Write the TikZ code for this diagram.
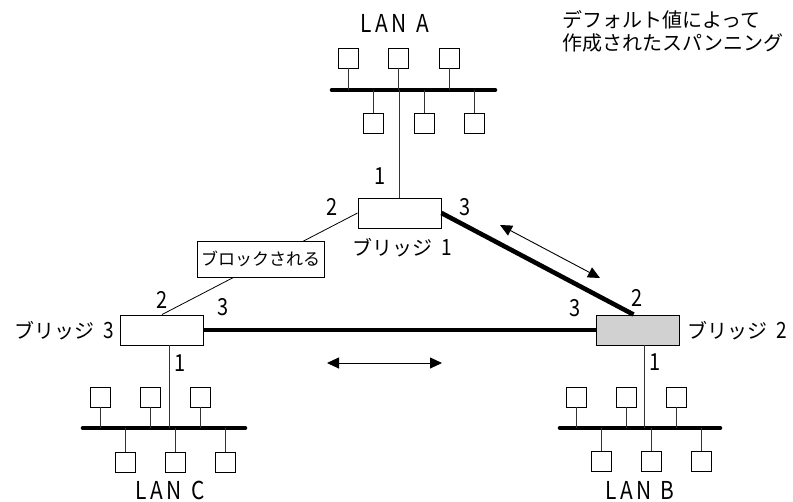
\documentclass[tikz,border=0pt]{standalone}
\usepackage{fontspec}
\usepackage{graphicx}
\setmainfont{Noto Sans CJK JP}
\usetikzlibrary{arrows.meta}
\newcommand{\cn}[1]{\scalebox{0.95}[1.12]{#1}}
\begin{document}
\begin{tikzpicture}[x=1pt,y=-1pt,
  bus/.style={line width=4.6pt, line cap=round},
  thin/.style={line width=0.9pt, draw=black!80},
  host/.style={draw, line width=0.9pt, minimum size=20pt, inner sep=0pt, fill=white},
  bridge/.style={draw, line width=0.9pt, minimum width=83pt, minimum height=30pt, inner sep=0pt},
  lbl/.style={font=\fontsize{20}{22}\selectfont, inner sep=0pt},
  lanlbl/.style={font=\fontsize{22}{24}\selectfont, inner sep=0pt},
  num/.style={font=\fontsize{21}{22}\selectfont, inner sep=0pt},
  thick link/.style={line width=4.6pt},
  dbl/.style={line width=0.9pt, {Triangle[length=12pt,width=11pt]}-{Triangle[length=12pt,width=11pt]}}
]
\useasboundingbox (0,0) rectangle (793,501);

% ---------- LAN A ----------
\coordinate (aL) at (332,90);
\coordinate (aR) at (495,90);
\draw[bus] (aL) -- (aR);
\node[host] (a1) at (348,58) {};
\node[host] (a2) at (398,58) {};
\node[host] (a3) at (449,58) {};
\node[host] (a4) at (373,123) {};
\node[host] (a5) at (424,123) {};
\node[host] (a6) at (474,123) {};
\foreach \h in {a1,a2,a3}{\draw[thin] (\h.south) -- (\h.south |- aL);}
\foreach \h in {a4,a5,a6}{\draw[thin] (\h.north) -- (\h.north |- aL);}
\node[lanlbl] (lanA) at (395,23) {\cn{L\,A\,N\ \ A}};

% ---------- LAN C ----------
\coordinate (cL) at (83,428);
\coordinate (cR) at (245,428);
\draw[bus] (cL) -- (cR);
\node[host] (c1) at (100,397) {};
\node[host] (c2) at (150,397) {};
\node[host] (c3) at (200,397) {};
\node[host] (c4) at (125,462) {};
\node[host] (c5) at (175,462) {};
\node[host] (c6) at (225,462) {};
\foreach \h in {c1,c2,c3}{\draw[thin] (\h.south) -- (\h.south |- cL);}
\foreach \h in {c4,c5,c6}{\draw[thin] (\h.north) -- (\h.north |- cL);}
\node[lanlbl] (lanC) at (170,490) {\cn{L\,A\,N\ \ C}};

% ---------- LAN B ----------
\coordinate (bL) at (560,428);
\coordinate (bR) at (720,428);
\draw[bus] (bL) -- (bR);
\node[host] (d1) at (576,397) {};
\node[host] (d2) at (626,397) {};
\node[host] (d3) at (676,397) {};
\node[host] (d4) at (601,461) {};
\node[host] (d5) at (651,461) {};
\node[host] (d6) at (701,461) {};
\foreach \h in {d1,d2,d3}{\draw[thin] (\h.south) -- (\h.south |- bL);}
\foreach \h in {d4,d5,d6}{\draw[thin] (\h.north) -- (\h.north |- bL);}
\node[lanlbl] (lanB) at (640,490) {\cn{L\,A\,N\ \ B}};

% ---------- Bridges ----------
\node[bridge, fill=white] (b1) at (399.5,213) {};
\node[bridge, fill=white] (b3) at (162,330) {};
\node[bridge, fill=black!18] (b2) at (637.5,330) {};

% stems bridge -> LAN
\draw[thin] (b1.north) -- (b1.north |- aL);
\draw[thin] ([xshift=49pt]b3.south west) -- ([xshift=49pt]b3.south west |- cL);
\draw[thin] ([xshift=49pt]b2.south west) -- ([xshift=49pt]b2.south west |- bL);

% links between bridges
\draw[line width=0.8pt] (b1.west) -- (b3.north);
\draw[thick link] (b1.east) -- ([xshift=-4pt]b2.north);
\draw[thick link] (b3.east) -- (b2.west);

% blocked label
\node[draw, line width=0.9pt, fill=white, minimum width=127pt, minimum height=36pt, inner sep=0pt,
      font=\fontsize{17}{19}\selectfont] (blk) at (260.5,259) {ブロックされる};

% port numbers
\node[num] (p11) at (380,176) {\cn{1}};
\node[num] (p12) at (332,207) {\cn{2}};
\node[num] (p13) at (465,207) {\cn{3}};
\node[num] (p32) at (162,300) {\cn{2}};
\node[num] (p33) at (223,307) {\cn{3}};
\node[num] (p31) at (180,363) {\cn{1}};
\node[num] (p22) at (637,298) {\cn{2}};
\node[num] (p23) at (575,308) {\cn{3}};
\node[num] (p21) at (655,362) {\cn{1}};

% bridge labels
\node[lbl] (lb1) at (402,248) {ブリッジ\ \ \cn{1}};
\node[lbl, anchor=east] (lb3) at (114,331) {ブリッジ\ \ \cn{3}};
\node[lbl, anchor=west] (lb2) at (687,331) {ブリッジ\ \ \cn{2}};

% direction arrows
\coordinate (u1) at (500,225);
\coordinate (u2) at (600,278);
\draw[dbl] (u1) -- (u2);
\coordinate (v1) at (327,363);
\coordinate (v2) at (442,363);
\draw[dbl] (v1) -- (v2);

% caption
\node[lbl, anchor=west, align=left, font=\fontsize{20}{23}\selectfont] (cap) at (562,31)
  {デフォルト値によって\\作成されたスパンニング};
\end{tikzpicture}
\end{document}
